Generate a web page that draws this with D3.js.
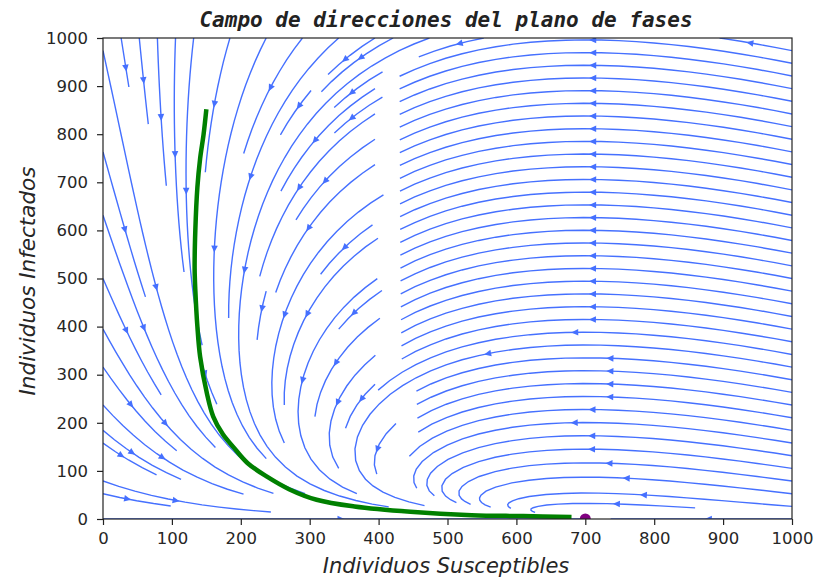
<!DOCTYPE html>
<html>
<head>
<meta charset="utf-8">
<script src="https://cdnjs.cloudflare.com/ajax/libs/d3/7.8.5/d3.min.js"></script>
<style>
    body { margin: 0; background: #fff; }
    svg text { font-family: "DejaVu Sans", sans-serif; }
</style>
</head>
<body>
<svg id="chart" width="815" height="581"></svg>
<script>
// Tick labels of both axes
var xTicks = [0, 100, 200, 300, 400, 500, 600, 700, 800, 900, 1000];
var yTicks = [0, 100, 200, 300, 400, 500, 600, 700, 800, 900, 1000];

// Phase plane model (everything divided by beta):
//   dS/dt = birthRatio * (susceptibleEq - S) - S * I
//   dI/dt = (S - threshold) * I
var susceptibleEq = 700;   // purple point, disease free equilibrium
var threshold = 700;       // S where dI/dt changes sign
var birthRatio = 150;      // mu / beta
var streamDensity = 1.3;   // spacing of the streamlines
var gridSize = 21;         // samples of the field along each axis

// Green trajectory (S, I)
var trajS = [150, 146, 141, 137, 134, 133, 134, 137, 141, 151, 160, 174, 189, 210, 238, 270, 310, 365, 446, 535, 610, 680];
var trajI = [852, 800, 750, 690, 600, 520, 476, 400, 337, 260, 213, 176, 150, 116, 88, 62, 40, 26, 15, 8, 6, 4];

// Equilibrium marker
var eqS = [700];
var eqI = [0];

var svg = d3.select("#chart");
var x = d3.scaleLinear().domain([0, 1000]).range([103, 792]);
var y = d3.scaleLinear().domain([0, 1000]).range([519, 38]);

function field(s, i) {
    return [birthRatio * (susceptibleEq - s) - s * i, (s - threshold) * i];
}

// Streamlines, seeded and integrated the way matplotlib's streamplot does it
function streamplot(f, ng, density) {
    var nx = ng, ny = ng;
    var dx = 1000 / (ng - 1), dy = 1000 / (ng - 1);
    var U = [], V = [], SP = [];
    for (var j = 0; j < ny; j++) {
        U.push([]); V.push([]); SP.push([]);
        for (var i = 0; i < nx; i++) {
            var d = f(i * dx, j * dy);
            var ug = d[0] / dx, vg = d[1] / dy;
            U[j].push(ug); V[j].push(vg);
            SP[j].push(Math.sqrt(Math.pow(ug / (nx - 1), 2) + Math.pow(vg / (ny - 1), 2)));
        }
    }
    var mnx = Math.floor(30 * density), mny = Math.floor(30 * density);
    var mask = [];
    for (j = 0; j < mny; j++) { mask.push(new Array(mnx).fill(0)); }
    var g2mx = (mnx - 1) / (nx - 1), g2my = (mny - 1) / (ny - 1);
    var traj = [], current = null;

    function withinGrid(xi, yi) {
        return xi >= 0 && xi <= nx - 1 && yi >= 0 && yi <= ny - 1;
    }
    function interp(a, xi, yi) {
        var xa = Math.floor(xi), ya = Math.floor(yi);
        var xn = xa === nx - 1 ? xa : xa + 1;
        var yn = ya === ny - 1 ? ya : ya + 1;
        var xt = xi - xa, yt = yi - ya;
        var a0 = a[ya][xa] * (1 - xt) + a[ya][xn] * xt;
        var a1 = a[yn][xa] * (1 - xt) + a[yn][xn] * xt;
        return a0 * (1 - yt) + a1 * yt;
    }
    function updateMask(xg, yg) {
        if (!withinGrid(xg, yg)) throw "invalid";
        var xm = Math.round(xg * g2mx), ym = Math.round(yg * g2my);
        if (current && current[0] === xm && current[1] === ym) return;
        if (mask[ym][xm] === 0) {
            traj.push([ym, xm]);
            mask[ym][xm] = 1;
            current = [xm, ym];
        } else {
            throw "invalid";
        }
    }
    function forward(xi, yi) {
        if (!withinGrid(xi, yi)) throw "out";
        var ds = interp(SP, xi, yi);
        if (ds === 0 || isNaN(ds)) throw "stop";
        return [interp(U, xi, yi) / ds, interp(V, xi, yi) / ds];
    }
    function backward(xi, yi) {
        var r = forward(xi, yi);
        return [-r[0], -r[1]];
    }
    function eulerStep(pts, fn) {
        var p = pts[pts.length - 1];
        var c = fn(p[0], p[1]);
        var dsx = c[0] === 0 ? Infinity : (c[0] < 0 ? p[0] / -c[0] : (nx - 1 - p[0]) / c[0]);
        var dsy = c[1] === 0 ? Infinity : (c[1] < 0 ? p[1] / -c[1] : (ny - 1 - p[1]) / c[1]);
        var ds = Math.min(dsx, dsy);
        pts.push([p[0] + c[0] * ds, p[1] + c[1] * ds]);
        return ds;
    }
    function rk12(x0, y0, fn) {
        var maxerror = 0.003;
        var maxds = Math.min(1 / mnx, 1 / mny, 0.1);
        var ds = maxds, stotal = 0, xi = x0, yi = y0, pts = [];
        while (true) {
            var k1, k2;
            try {
                if (withinGrid(xi, yi)) pts.push([xi, yi]);
                else throw "out";
                k1 = fn(xi, yi);
                k2 = fn(xi + ds * k1[0], yi + ds * k1[1]);
            } catch (e) {
                if (e === "out" && pts.length) {
                    try { stotal += eulerStep(pts, fn); } catch (e2) { }
                }
                break;
            }
            var dx1 = ds * k1[0], dy1 = ds * k1[1];
            var dx2 = ds * 0.5 * (k1[0] + k2[0]), dy2 = ds * 0.5 * (k1[1] + k2[1]);
            var error = Math.hypot((dx2 - dx1) / (nx - 1), (dy2 - dy1) / (ny - 1));
            if (error < maxerror) {
                xi += dx2; yi += dy2;
                try { updateMask(xi, yi); } catch (e) { break; }
                if (stotal + ds > 4.0) break;
                stotal += ds;
            }
            ds = error === 0 ? maxds : Math.min(maxds, 0.85 * ds * Math.sqrt(maxerror / error));
        }
        return [stotal, pts];
    }
    function integrate(x0, y0) {
        traj = [];
        current = null;
        try { updateMask(x0, y0); } catch (e) { return null; }
        var b = rk12(x0, y0, backward);
        current = [Math.round(x0 * g2mx), Math.round(y0 * g2my)];
        var fw = rk12(x0, y0, forward);
        var total = b[0] + fw[0];
        var pts = b[1].slice().reverse().concat(fw[1].slice(1));
        if (total > 0.1) return pts;
        // too short: give the cells back
        traj.forEach(function(t) { mask[t[0]][t[1]] = 0; });
        return null;
    }

    // seeds spiral inwards from the border
    var lines = [];
    var xfirst = 0, yfirst = 1, xlast = mnx - 1, ylast = mny - 1;
    var sx = 0, sy = 0, dir = "right";
    for (var k = 0; k < mnx * mny; k++) {
        if (mask[sy][sx] === 0) {
            var t = integrate(sx / g2mx, sy / g2my);
            if (t) {
                lines.push(t.map(function(p) { return [p[0] * dx, p[1] * dy]; }));
            }
        }
        if (dir === "right") { sx++; if (sx >= xlast) { xlast--; dir = "up"; } }
        else if (dir === "up") { sy++; if (sy >= ylast) { ylast--; dir = "left"; } }
        else if (dir === "left") { sx--; if (sx <= xfirst) { xfirst++; dir = "down"; } }
        else { sy--; if (sy <= yfirst) { yfirst++; dir = "right"; } }
    }
    return lines;
}

var lines = streamplot(field, gridSize, streamDensity);

svg.append("defs").append("clipPath").attr("id", "plotClip")
    .append("rect").attr("x", 103).attr("y", 38).attr("width", 689).attr("height", 481);

var plot = svg.append("g").attr("clip-path", "url(#plotClip)");
var streamColor = "#4570ff";

var lineGen = d3.line()
    .x(function(d) { return x(d[0]); })
    .y(function(d) { return y(d[1]); });

plot.selectAll("path.stream")
    .data(lines)
    .enter().append("path")
    .attr("class", "stream")
    .attr("d", lineGen)
    .attr("fill", "none")
    .attr("stroke", streamColor)
    .attr("stroke-width", 1.4);

// arrow halfway along each streamline
var arrows = lines.map(function(t) {
    var s = 0, cum = [];
    for (var i = 1; i < t.length; i++) {
        s += Math.hypot(t[i][0] - t[i - 1][0], t[i][1] - t[i - 1][1]);
        cum.push(s);
    }
    var n = d3.bisectLeft(cum, s / 2);
    var n1 = Math.min(n + 1, t.length - 1);
    var tail = [x(t[n][0]), y(t[n][1])];
    var head = [(x(t[n][0]) + x(t[n1][0])) / 2, (y(t[n][1]) + y(t[n1][1])) / 2];
    var ang = Math.atan2(head[1] - tail[1], head[0] - tail[0]);
    return { x: head[0], y: head[1], a: ang * 180 / Math.PI };
});

plot.selectAll("path.arrow")
    .data(arrows)
    .enter().append("path")
    .attr("class", "arrow")
    .attr("d", "M3,0 L-4,-3.3 L-4,3.3 Z")
    .attr("transform", function(d) { return "translate(" + d.x + "," + d.y + ") rotate(" + d.a + ")"; })
    .attr("fill", streamColor);

// green trajectory
var trajPoints = trajS.map(function(s, i) { return [s, trajI[i]]; });
plot.append("path")
    .datum(trajPoints)
    .attr("d", lineGen.curve(d3.curveCatmullRom.alpha(0.5)))
    .attr("fill", "none")
    .attr("stroke", "#008000")
    .attr("stroke-width", 4.5);

plot.selectAll("circle.eq")
    .data(eqS)
    .enter().append("circle")
    .attr("class", "eq")
    .attr("cx", function(d) { return x(d); })
    .attr("cy", function(d, i) { return y(eqI[i]); })
    .attr("r", 5.5)
    .attr("fill", "#800080");

// axes
var xAxis = svg.append("g")
    .attr("transform", "translate(0,519)")
    .call(d3.axisBottom(x).tickValues(xTicks).tickFormat(d3.format("d")).tickSize(6).tickPadding(7));
var yAxis = svg.append("g")
    .attr("transform", "translate(103,0)")
    .call(d3.axisLeft(y).tickValues(yTicks).tickFormat(d3.format("d")).tickSize(6).tickPadding(9));
[xAxis, yAxis].forEach(function(a) {
    a.select(".domain").remove();
    a.selectAll(".tick line").attr("stroke", "#222").attr("stroke-width", 1.2);
    a.selectAll(".tick text")
        .attr("fill", "#262626")
        .style("font-size", "16.5px")
        .style("font-family", "'DejaVu Sans', sans-serif");
});

svg.append("rect")
    .attr("x", 103).attr("y", 38).attr("width", 689).attr("height", 481)
    .attr("fill", "none").attr("stroke", "#222").attr("stroke-width", 1.2);

svg.append("text")
    .attr("x", 446).attr("y", 27)
    .attr("text-anchor", "middle")
    .style("font-family", "'DejaVu Sans Mono', monospace")
    .style("font-weight", "bold")
    .style("font-style", "italic")
    .style("font-size", "21px")
    .attr("fill", "#222")
    .text("Campo de direcciones del plano de fases");

svg.append("text")
    .attr("x", 446).attr("y", 573)
    .attr("text-anchor", "middle")
    .style("font-style", "italic")
    .style("font-size", "21px")
    .attr("fill", "#262626")
    .text("Individuos Susceptibles");

svg.append("text")
    .attr("transform", "translate(35,281) rotate(-90)")
    .attr("text-anchor", "middle")
    .style("font-style", "italic")
    .style("font-size", "21.5px")
    .attr("fill", "#262626")
    .text("Individuos Infectados");
</script>
</body>
</html>
